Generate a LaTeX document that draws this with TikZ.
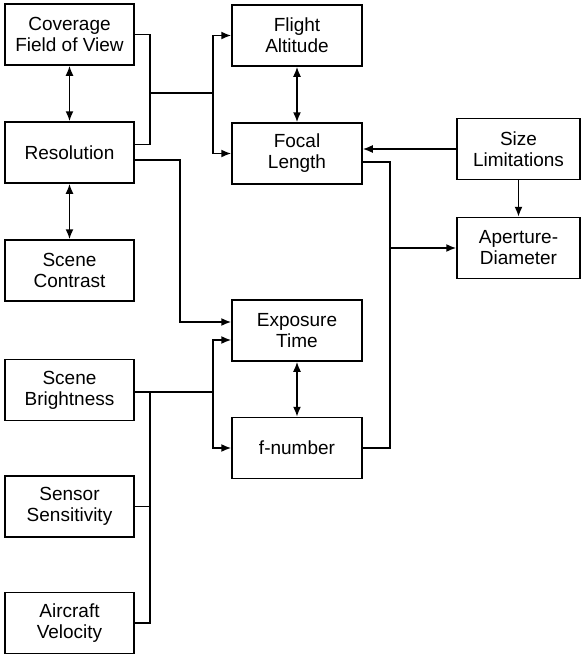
\documentclass[tikz,border=0pt]{standalone}
\usepackage{fontspec}
\setmainfont{Liberation Sans}
\usetikzlibrary{arrows.meta}
\begin{document}
\begin{tikzpicture}[
  x=1pt,y=-1pt,
  box/.style={draw, line width=1.5pt, rectangle, align=center, inner sep=0pt,
    font=\fontsize{19}{21}\selectfont},
  lbox/.style={box, minimum width=129pt, minimum height=61pt},
  mbox/.style={box, minimum width=130pt, minimum height=61pt},
  rbox/.style={box, minimum width=123pt, minimum height=61pt},
  conn/.style={line width=1.6pt},
  arr/.style={conn, -{Latex[length=10pt,width=8pt]}},
  dbl/.style={conn, {Latex[length=10pt,width=8pt]}-{Latex[length=10pt,width=8pt]}}
]
\useasboundingbox (0,0) rectangle (582,654);
% left column
\node[lbox] (cov) at (69.5,34.5) {Coverage\\Field of View};
\node[lbox] (res) at (69.5,152.5) {Resolution};
\node[lbox] (con) at (69.5,270.5) {Scene\\Contrast};
\node[lbox] (bri) at (69.5,390) {Scene\\Brightness};
\node[lbox] (sen) at (69.5,506.5) {Sensor\\Sensitivity};
\node[lbox] (air) at (69.5,623) {Aircraft\\Velocity};
% middle column
\node[mbox] (fli) at (297,35.5) {Flight\\Altitude};
\node[mbox] (foc) at (297,153.5) {Focal\\Length};
\node[mbox] (exp) at (297,330.5) {Exposure\\Time};
\node[mbox] (fnum) at (297,448) {f-number};
% right column
\node[rbox] (size) at (518.5,149) {Size\\Limitations};
\node[rbox] (ap) at (518.5,248) {Aperture-\\Diameter};
% junctions
\coordinate (j1) at (150,93);
\coordinate (j2) at (213,93);
\coordinate (j3) at (180,322);
\coordinate (j4) at (213,392);
\coordinate (j5) at (150,392);
\coordinate (j6) at (390,448);
% connectors
\draw[dbl] (cov.south) -- (res.north);
\draw[dbl] (res.south) -- (con.north);
\draw[conn] (cov.east) -| (j1) |- ([yshift=8pt]res.east);
\draw[conn] (j1) -- (j2);
\draw[arr] (j2) |- (fli.west);
\draw[arr] (j2) |- (foc.west);
\draw[arr] ([yshift=-7.5pt]res.east) -| (j3) -- (j3 -| exp.west);
\draw[conn] (bri.east |- j4) -- (j4);
\draw[arr] (j4) |- ([yshift=-9.5pt]exp.west);
\draw[arr] (j4) |- (fnum.west);
\draw[conn] (j5) |- (air.east);
\draw[conn] (sen.east) -- (sen.east -| j5);
\draw[dbl] (fli.south) -- (foc.north);
\draw[dbl] (exp.south) -- (fnum.north);
\draw[arr] (size.west) -- (size.west -| foc.east);
\draw[arr] (size.south) -- (ap.north);
\draw[conn] ([yshift=-8.5pt]foc.east) -| (j6) -- (fnum.east);
\draw[arr] (ap.west -| j6) -- (ap.west);
\end{tikzpicture}
\end{document}
